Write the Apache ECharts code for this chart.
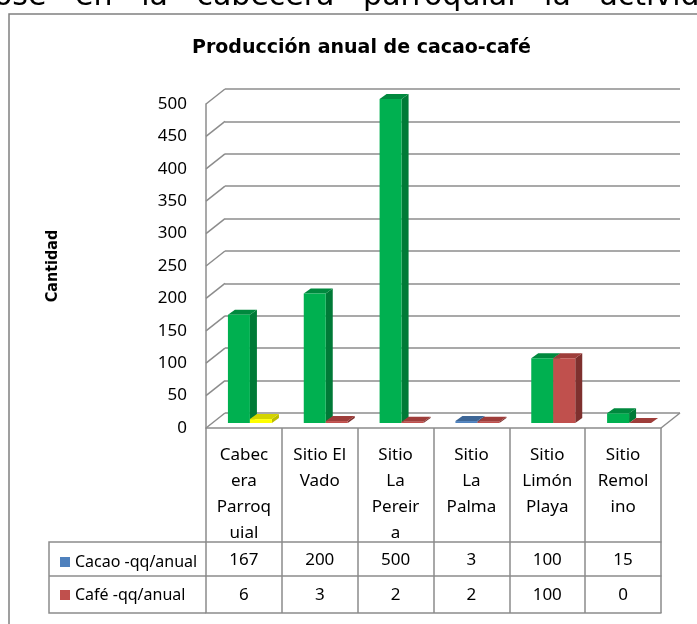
<!DOCTYPE html>
<html>
<head>
<meta charset="utf-8">
<script src="https://cdn.jsdelivr.net/npm/echarts@6/dist/echarts.min.js"></script>
<style>
  html, body { margin: 0; padding: 0; background: #fff; }
  #chart { width: 697px; height: 624px; }
</style>
</head>
<body>
<div id="chart"></div>
<script>
// datos de la tabla
const categories = ['Cabecera Parroquial', 'Sitio El Vado', 'Sitio La Pereira', 'Sitio La Palma', 'Sitio Limón Playa', 'Sitio Remolino'];
// etiquetas tal como se cortan en la tabla
const categoryLabels = ['Cabec\nera\nParroq\nuial', 'Sitio El\nVado', 'Sitio\nLa\nPereir\na', 'Sitio\nLa\nPalma', 'Sitio\nLimón\nPlaya', 'Sitio\nRemol\nino'];
const seriesNames = ['Cacao -qq/anual', 'Café -qq/anual'];
const cacao = [167, 200, 500, 3, 100, 15];
const cafe = [6, 3, 2, 2, 100, 0];
const yTicks = [0, 50, 100, 150, 200, 250, 300, 350, 400, 450, 500];

// colores (frente, tapa, lado)
const GREEN = { front: '#00B050', top: '#00893E', side: '#007A37' };
const RED = { front: '#C0504D', top: '#9E3D3A', side: '#7E302E' };
const BLUE = { front: '#4F81BD', top: '#3D6696', side: '#345883' };
const YELLOW = { front: '#FFFF00', top: '#D4D400', side: '#BDBD00' };
const cacaoStyle = [GREEN, GREEN, GREEN, BLUE, GREEN, GREEN];
const cafeStyle = [YELLOW, RED, RED, RED, RED, RED];

const GRAY = '#8c8c8c';
const FONT = '"Noto Sans", sans-serif';
const BOLD_FONT = '"DejaVu Sans Condensed", "DejaVu Sans", sans-serif';
const DEPTH_X = 19, DEPTH_Y = -15;

const chart = echarts.init(document.getElementById('chart'));

// barra pseudo 3D
function barRender(styles, side) {
  return function (params, api) {
    const i = api.value(0);
    const base = api.coord([i, 0]);
    const top = api.coord([i, api.value(1)]);
    const w = api.size([1, 0])[0] * 0.29;
    const dx = 7, dy = -5;
    const x0 = base[0] + 6 + (side < 0 ? -w : 0);
    const x1 = x0 + w;
    const yb = base[1] - 5;
    const yt = top[1] - 5;
    const c = styles[i];
    return {
      type: 'group',
      children: [
        { type: 'polygon', shape: { points: [[x1, yb], [x1 + dx, yb + dy], [x1 + dx, yt + dy], [x1, yt]] }, style: { fill: c.side } },
        { type: 'polygon', shape: { points: [[x0, yt], [x1, yt], [x1 + dx, yt + dy], [x0 + dx, yt + dy]] }, style: { fill: c.top } },
        { type: 'rect', shape: { x: x0, y: yt, width: w, height: yb - yt }, style: { fill: c.front } }
      ]
    };
  };
}

const option = {
  animation: false,
  title: {
    text: 'Producción anual de cacao-café',
    left: 187,
    top: 34,
    textStyle: { fontFamily: '"DejaVu Sans", sans-serif', fontSize: 19, fontWeight: 'bold', color: '#000' }
  },
  legend: {
    orient: 'vertical',
    left: 55,
    top: 549,
    itemGap: 17,
    itemWidth: 10,
    itemHeight: 10,
    icon: 'rect',
    data: seriesNames,
    textStyle: { fontFamily: FONT, fontSize: 16, color: '#000' }
  },
  grid: [
    { left: 225, top: 89, width: 455, height: 324 },
    { left: 206, top: 104, width: 455, height: 324 }
  ],
  xAxis: [
    { type: 'category', gridIndex: 0, data: categories, show: false },
    {
      type: 'category', gridIndex: 1, data: categories,
      axisLine: { lineStyle: { color: GRAY, width: 1.5 } },
      axisTick: { show: true, interval: 0, length: 185, lineStyle: { color: GRAY, width: 1.5 } },
      axisLabel: {
        interval: 0, margin: 14, fontFamily: FONT, fontSize: 17, lineHeight: 26, color: '#000',
        formatter: (v, i) => categoryLabels[i]
      }
    },
    {
      type: 'category', gridIndex: 1, data: categories, position: 'bottom', offset: 114,
      axisLine: { lineStyle: { color: GRAY, width: 1.5 } },
      axisTick: { show: false },
      axisLabel: { interval: 0, margin: 10, fontFamily: FONT, fontSize: 17, color: '#000', formatter: (v, i) => String(cacao[i]) }
    },
    {
      type: 'category', gridIndex: 1, data: categories, position: 'bottom', offset: 148,
      axisLine: { lineStyle: { color: GRAY, width: 1.5 } },
      axisTick: { show: false },
      axisLabel: { interval: 0, margin: 11, fontFamily: FONT, fontSize: 17, color: '#000', formatter: (v, i) => String(cafe[i]) }
    },
    {
      type: 'category', gridIndex: 1, data: categories, position: 'bottom', offset: 185,
      axisLine: { lineStyle: { color: GRAY, width: 1.5 } },
      axisTick: { show: false },
      axisLabel: { show: false }
    }
  ],
  yAxis: [
    {
      type: 'value', gridIndex: 0, min: 0, max: 500, interval: 50,
      axisLabel: { show: false }, axisLine: { show: false }, axisTick: { show: false },
      splitLine: { lineStyle: { color: GRAY, width: 1.5 } }
    },
    {
      type: 'value', gridIndex: 1, min: 0, max: 500, interval: 50,
      name: 'Cantidad', nameLocation: 'middle', nameRotate: 90, nameGap: 145,
      nameTextStyle: { fontFamily: BOLD_FONT, fontSize: 16, fontWeight: 'bold', color: '#000' },
      axisLine: { show: true, lineStyle: { color: GRAY, width: 1.5 } },
      axisTick: { show: false },
      splitLine: { show: false },
      axisLabel: { margin: 19, fontFamily: FONT, fontSize: 17, color: '#000' }
    }
  ],
  graphic: [
    {
      type: 'text', silent: true,
      style: { x: -6, y: 12, verticalAlign: 'bottom', text: 'ose   en   la   cabecera   parroquial   la   actividad', font: '30px "DejaVu Sans"', fill: '#000' }
    },
    {
      type: 'rect', silent: true, shape: { x: 9, y: 14, width: 720, height: 700 },
      style: { fill: 'none', stroke: '#808080', lineWidth: 1.5 }
    },
    {
      type: 'polyline', silent: true, shape: { points: [[206, 542], [49, 542], [49, 613], [206, 613]] },
      style: { fill: 'none', stroke: GRAY, lineWidth: 1.5 }
    },
    {
      type: 'line', silent: true, shape: { x1: 49, y1: 576, x2: 206, y2: 576 },
      style: { stroke: GRAY, lineWidth: 1.5 }
    }
  ],
  series: [
    {
      // diagonales de la pared lateral y del piso
      type: 'custom', xAxisIndex: 1, yAxisIndex: 1, silent: true, z: 1,
      data: yTicks.map(v => [0, v]),
      renderItem: function (params, api) {
        const y = api.coord([0, api.value(1)])[1];
        const x = params.coordSys.x;
        const children = [{ type: 'line', shape: { x1: x, y1: y, x2: x + DEPTH_X, y2: y + DEPTH_Y }, style: { stroke: GRAY, lineWidth: 1.5 } }];
        if (api.value(1) === 0) {
          const xr = x + params.coordSys.width;
          children.push({ type: 'line', shape: { x1: xr, y1: y, x2: xr + DEPTH_X, y2: y + DEPTH_Y }, style: { stroke: GRAY, lineWidth: 1.5 } });
        }
        return { type: 'group', children: children };
      }
    },
    {
      name: seriesNames[0], type: 'custom', xAxisIndex: 1, yAxisIndex: 1, z: 3,
      itemStyle: { color: '#4F81BD' },
      encode: { x: 0, y: 1 },
      data: cacao.map((v, i) => [i, v]),
      renderItem: barRender(cacaoStyle, -1)
    },
    {
      name: seriesNames[1], type: 'custom', xAxisIndex: 1, yAxisIndex: 1, z: 4,
      itemStyle: { color: '#C0504D' },
      encode: { x: 0, y: 1 },
      data: cafe.map((v, i) => [i, v]),
      renderItem: barRender(cafeStyle, 1)
    }
  ]
};

chart.setOption(option);
</script>
</body>
</html>
